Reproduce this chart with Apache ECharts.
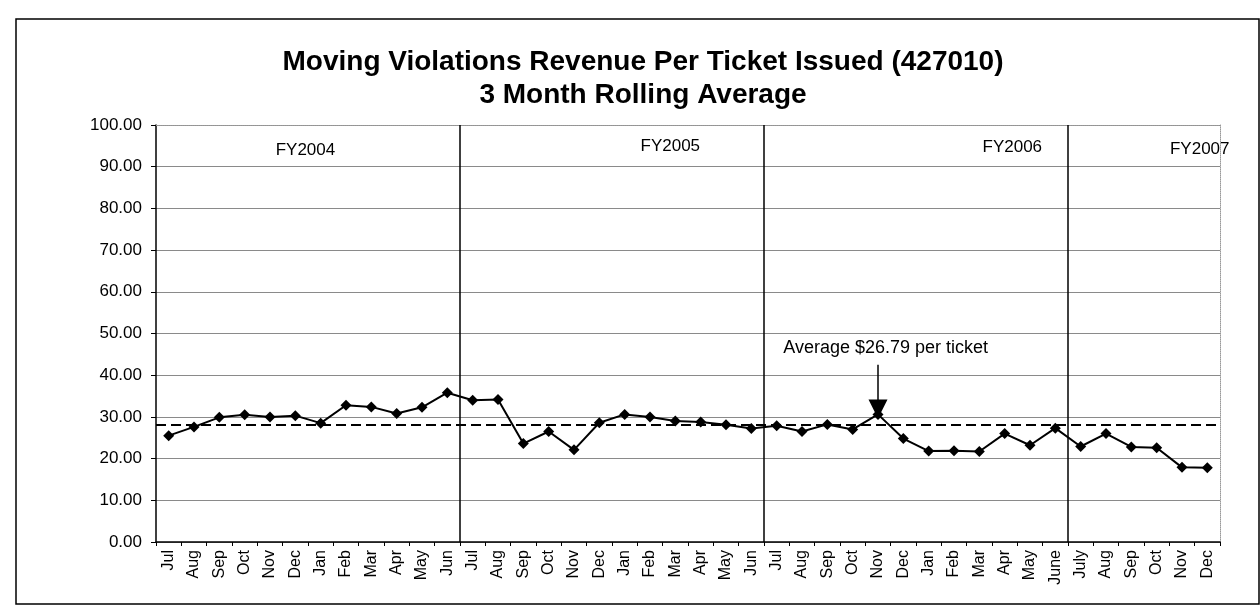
<!DOCTYPE html>
<html>
<head>
<meta charset="utf-8">
<script src="https://cdn.jsdelivr.net/npm/echarts@6/dist/echarts.min.js"></script>
<style>
html,body{margin:0;padding:0;background:#fff;}
#chart{width:1260px;height:614px;}
</style>
</head>
<body>
<div id="chart"></div>
<script>
// ---- data ----
const months = [
  'Jul','Aug','Sep','Oct','Nov','Dec','Jan','Feb','Mar','Apr','May','Jun',
  'Jul','Aug','Sep','Oct','Nov','Dec','Jan','Feb','Mar','Apr','May','Jun',
  'Jul','Aug','Sep','Oct','Nov','Dec','Jan','Feb','Mar','Apr','May','June',
  'July','Aug','Sep','Oct','Nov','Dec'
];
const revenuePerTicket = [
  25.5, 27.6, 29.9, 30.5, 30.0, 30.3, 28.5, 32.8, 32.4, 30.8, 32.3, 35.8,
  34.0, 34.2, 23.6, 26.5, 22.1, 28.6, 30.6, 30.0, 29.0, 28.8, 28.1, 27.2,
  27.9, 26.5, 28.2, 27.0, 30.6, 24.8, 21.8, 21.9, 21.7, 26.0, 23.2, 27.3,
  22.9, 26.0, 22.8, 22.6, 17.9, 17.8
];
const averageLineValue = 28.2;
const fiscalYearLabels = ['FY2004', 'FY2005', 'FY2006', 'FY2007'];
const fiscalYearLabelX = [5.9, 20.3, 33.8, 41.2];   // position along month axis (0..42)
const fiscalYearLabelY = [94.0, 94.8, 94.6, 94.1];
const fiscalYearBoundaries = [12, 24, 36];            // month index where a new FY starts
const annotationText = 'Average $26.79 per ticket';
const annotationMonth = 28;                           // Nov FY2006
const annotationTextPos = [28.8, 46.5];
const annotationArrowTop = 42.5;
const yTickMin = 0, yTickMax = 100, yTickStep = 10;

// ---- chart ----
const FONT = '"Liberation Sans", Arial, sans-serif';
const chart = echarts.init(document.getElementById('chart'), null, {renderer: 'canvas'});

const arrowEnd = revenuePerTicket[annotationMonth] + 1.3;

const plainLabel = {fontFamily: FONT, color: '#000', opacity: 1, textBorderWidth: 0, textShadowBlur: 0};

const option = {
  backgroundColor: '#fff',
  animation: false,
  textStyle: {fontFamily: FONT, color: '#000'},
  title: {
    text: 'Moving Violations Revenue Per Ticket Issued (427010)\n3 Month Rolling Average',
    left: 643,
    top: 46,
    textAlign: 'center',
    padding: 0,
    textStyle: {fontFamily: FONT, fontSize: 28, fontWeight: 'bold', color: '#000', lineHeight: 33}
  },
  graphic: [{
    type: 'rect',
    silent: true,
    shape: {x: 16, y: 19, width: 1243, height: 585},
    style: {fill: 'none', stroke: '#000', lineWidth: 1.5}
  }],
  grid: {left: 156, right: 40, top: 125, bottom: 72, containLabel: false},
  xAxis: [{
    type: 'category',
    data: months,
    boundaryGap: true,
    axisLine: {lineStyle: {color: '#000', width: 1.5}},
    axisTick: {show: true, alignWithLabel: false, length: 4, lineStyle: {color: '#000'}},
    axisLabel: {rotate: 90, interval: 0, margin: 8, fontSize: 16, color: '#000', fontFamily: FONT},
    splitLine: {show: false}
  }, {
    type: 'value',
    min: 0, max: months.length,
    position: 'top',
    axisLine: {show: true, onZero: false, lineStyle: {color: '#999', width: 1, type: 'dotted'}},
    axisTick: {show: false},
    axisLabel: {show: false},
    splitLine: {show: false}
  }],
  yAxis: [{
    type: 'value',
    min: yTickMin, max: yTickMax, interval: yTickStep,
    axisLine: {show: true, lineStyle: {color: '#000', width: 1.5}},
    axisTick: {show: true, length: 5, lineStyle: {color: '#000'}},
    axisLabel: {margin: 14, fontSize: 17, color: '#000', fontFamily: FONT,
      formatter: v => v.toFixed(2)},
    splitLine: {show: true, lineStyle: {color: '#8a8a8a', width: 1}}
  }, {
    type: 'value',
    min: yTickMin, max: yTickMax, interval: yTickStep,
    position: 'right',
    axisLine: {show: true, lineStyle: {color: '#999', width: 1, type: 'dotted'}},
    axisTick: {show: false},
    axisLabel: {show: false},
    splitLine: {show: false}
  }],
  series: [{
    name: 'Revenue per ticket',
    type: 'line',
    xAxisIndex: 0, yAxisIndex: 0,
    data: revenuePerTicket,
    symbol: 'diamond',
    symbolSize: 11,
    itemStyle: {color: '#000'},
    lineStyle: {color: '#000', width: 2},
    z: 5,
    markLine: {
      silent: true,
      symbol: ['none', 'none'],
      label: {show: false},
      lineStyle: {color: '#000', width: 2, type: [10, 5]},
      data: [{yAxis: averageLineValue}]
    }
  }, {
    name: 'helper',
    type: 'scatter',
    xAxisIndex: 1, yAxisIndex: 0,
    symbolSize: 0,
    silent: true,
    itemStyle: {color: '#000', opacity: 1},
    data: fiscalYearLabels.map((t, i) => ({value: [fiscalYearLabelX[i], fiscalYearLabelY[i]], name: t})),
    label: Object.assign({show: true, position: 'inside', formatter: p => p.name, fontSize: 17}, plainLabel),
    markLine: {
      silent: true,
      symbol: ['none', 'none'],
      label: {show: false},
      lineStyle: {color: '#000', width: 1.5, type: 'solid'},
      data: fiscalYearBoundaries.map(b => ({xAxis: b}))
    },
    markPoint: {
      silent: true,
      symbol: 'circle', symbolSize: 0,
      itemStyle: {color: '#000', opacity: 1},
      label: Object.assign({show: true, position: 'inside', formatter: annotationText, fontSize: 18}, plainLabel),
      data: [{coord: annotationTextPos}]
    }
  }, {
    name: 'arrow',
    type: 'line',
    xAxisIndex: 1, yAxisIndex: 0,
    data: [],
    silent: true,
    z: 6,
    markLine: {
      silent: true,
      symbol: ['none', 'triangle'],
      symbolSize: 19,
      label: {show: false},
      lineStyle: {color: '#000', width: 1.5, type: 'solid'},
      itemStyle: {color: '#000'},
      data: [[
        {coord: [annotationMonth + 0.5, annotationArrowTop]},
        {coord: [annotationMonth + 0.5, arrowEnd]}
      ]]
    }
  }]
};
chart.setOption(option);
</script>
</body>
</html>
